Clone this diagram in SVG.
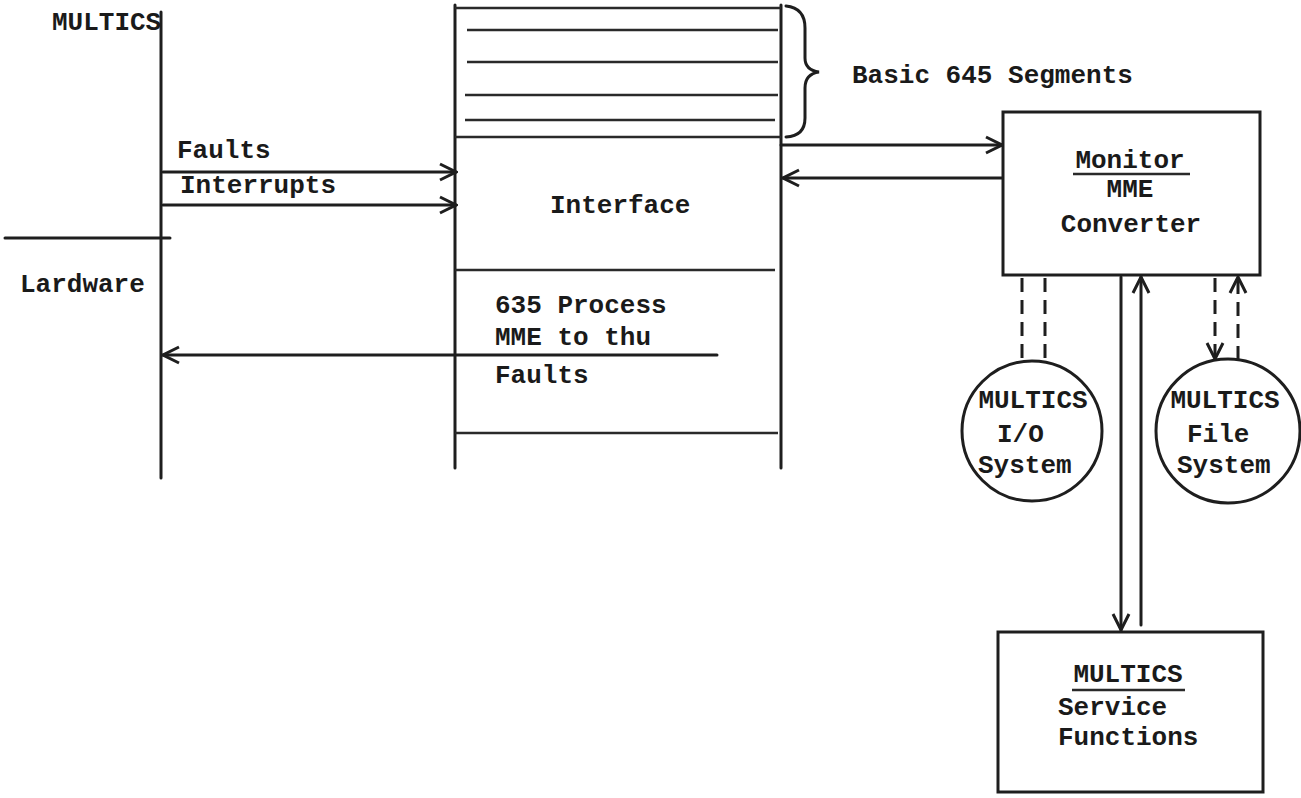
<svg xmlns="http://www.w3.org/2000/svg" width="1301" height="798" viewBox="0 0 1301 798">
<style>
text{font-family:"Liberation Mono","Courier New",monospace;font-size:26px;font-weight:bold;fill:#1a1a1a}
.ln{stroke:#1e1e1e;stroke-width:3;fill:none;stroke-linecap:round}
.thin{stroke:#2a2a2a;stroke-width:2.5;fill:none}
.dash{stroke:#1e1e1e;stroke-width:3;fill:none;stroke-dasharray:14 8}
.arr{marker-end:url(#ah)}
</style>
<defs>
<marker id="ah" viewBox="0 0 20 20" refX="18" refY="10" markerWidth="20" markerHeight="20" markerUnits="userSpaceOnUse" orient="auto">
<polyline points="2,2 18,10 2,18" fill="none" stroke="#1e1e1e" stroke-width="3"/>
</marker>
</defs>
<g id="multics-hardware-divider">
<line class="ln" x1="161" y1="12" x2="161" y2="478"/>
<line class="ln" x1="5" y1="238" x2="170" y2="238"/>
<text x="52" y="30">MULTICS</text>
<text x="20" y="292">Lardware</text>
</g>
<g id="segment-column">
<line class="ln" x1="455" y1="5" x2="455" y2="468"/>
<line class="ln" x1="781" y1="5" x2="781" y2="468"/>
<line class="thin" x1="455" y1="8" x2="781" y2="8"/>
<line class="thin" x1="467" y1="30" x2="778" y2="30"/>
<line class="thin" x1="467" y1="62" x2="778" y2="62"/>
<line class="thin" x1="465" y1="95" x2="778" y2="95"/>
<line class="thin" x1="465" y1="120" x2="775" y2="120"/>
<line class="thin" x1="455" y1="137" x2="781" y2="137"/>
<line class="thin" x1="455" y1="270" x2="775" y2="270"/>
<line class="thin" x1="455" y1="433" x2="778" y2="433"/>
<text x="550" y="213">Interface</text>
<text x="495" y="313">635 Process</text>
<text x="495" y="345">MME to thu</text>
<text x="495" y="383">Faults</text>
</g>
<g id="segments-brace">
<path class="ln" d="M786,6 Q805,8 805,28 L805,58 Q805,70 819,72 Q805,74 805,88 L805,118 Q805,136 786,137"/>
<text x="852" y="83">Basic 645 Segments</text>
</g>
<g id="monitor-box">
<rect class="ln" x="1003" y="112" width="257" height="163"/>
<text x="1130" y="168" text-anchor="middle">Monitor</text>
<line class="thin" x1="1073" y1="174" x2="1190" y2="174"/>
<text x="1130" y="197" text-anchor="middle">MME</text>
<text x="1131" y="232" text-anchor="middle">Converter</text>
</g>
<g id="io-system">
<circle class="ln" cx="1032" cy="431" r="70"/>
<text x="1033" y="408" text-anchor="middle">MULTICS</text>
<text x="997" y="442">I/O</text>
<text x="978" y="473">System</text>
</g>
<g id="file-system">
<circle class="ln" cx="1228" cy="431" r="72"/>
<text x="1225" y="408" text-anchor="middle">MULTICS</text>
<text x="1187" y="442">File</text>
<text x="1177" y="473">System</text>
</g>
<g id="service-box">
<rect class="ln" x="998" y="632" width="265" height="160"/>
<text x="1128" y="682" text-anchor="middle">MULTICS</text>
<line class="thin" x1="1072" y1="690" x2="1185" y2="690"/>
<text x="1058" y="715">Service</text>
<text x="1058" y="745">Functions</text>
</g>
<g id="connectors">
<line class="ln arr" x1="163" y1="172" x2="456" y2="172"/>
<line class="ln arr" x1="163" y1="205" x2="456" y2="205"/>
<text x="177" y="158">Faults</text>
<text x="180" y="193">Interrupts</text>
<line class="ln arr" x1="717" y1="355" x2="163" y2="355"/>
<line class="ln arr" x1="781" y1="145" x2="1002" y2="145"/>
<line class="ln arr" x1="1002" y1="178" x2="783" y2="178"/>
<line class="dash" x1="1022" y1="278" x2="1022" y2="362"/>
<line class="dash" x1="1045" y1="278" x2="1045" y2="362"/>
<line class="dash arr" x1="1215" y1="278" x2="1215" y2="359"/>
<line class="dash arr" x1="1238" y1="360" x2="1238" y2="277"/>
<line class="ln arr" x1="1121" y1="277" x2="1121" y2="630"/>
<line class="ln arr" x1="1141" y1="625" x2="1141" y2="277"/>
</g>
</svg>
